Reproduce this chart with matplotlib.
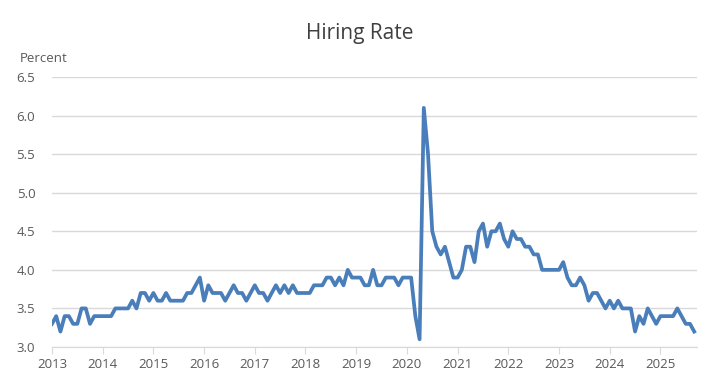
import matplotlib.pyplot as plt
import numpy as np

plt.rcParams['font.family'] = ['Open Sans', 'DejaVu Sans']

# monthly hiring rate, Jan 2013 - Sep 2025
rate_2013 = [3.3, 3.4, 3.2, 3.4, 3.4, 3.3, 3.3, 3.5, 3.5, 3.3, 3.4, 3.4]
rate_2014 = [3.4, 3.4, 3.4, 3.5, 3.5, 3.5, 3.5, 3.6, 3.5, 3.7, 3.7, 3.6]
rate_2015 = [3.7, 3.6, 3.6, 3.7, 3.6, 3.6, 3.6, 3.6, 3.7, 3.7, 3.8, 3.9]
rate_2016 = [3.6, 3.8, 3.7, 3.7, 3.7, 3.6, 3.7, 3.8, 3.7, 3.7, 3.6, 3.7]
rate_2017 = [3.8, 3.7, 3.7, 3.6, 3.7, 3.8, 3.7, 3.8, 3.7, 3.8, 3.7, 3.7]
rate_2018 = [3.7, 3.7, 3.8, 3.8, 3.8, 3.9, 3.9, 3.8, 3.9, 3.8, 4.0, 3.9]
rate_2019 = [3.9, 3.9, 3.8, 3.8, 4.0, 3.8, 3.8, 3.9, 3.9, 3.9, 3.8, 3.9]
rate_2020 = [3.9, 3.9, 3.4, 3.1, 6.1, 5.5, 4.5, 4.3, 4.2, 4.3, 4.1, 3.9]
rate_2021 = [3.9, 4.0, 4.3, 4.3, 4.1, 4.5, 4.6, 4.3, 4.5, 4.5, 4.6, 4.4]
rate_2022 = [4.3, 4.5, 4.4, 4.4, 4.3, 4.3, 4.2, 4.2, 4.0, 4.0, 4.0, 4.0]
rate_2023 = [4.0, 4.1, 3.9, 3.8, 3.8, 3.9, 3.8, 3.6, 3.7, 3.7, 3.6, 3.5]
rate_2024 = [3.6, 3.5, 3.6, 3.5, 3.5, 3.5, 3.2, 3.4, 3.3, 3.5, 3.4, 3.3]
rate_2025 = [3.4, 3.4, 3.4, 3.4, 3.5, 3.4, 3.3, 3.3, 3.2]

rates = (rate_2013 + rate_2014 + rate_2015 + rate_2016 + rate_2017 + rate_2018
         + rate_2019 + rate_2020 + rate_2021 + rate_2022 + rate_2023 + rate_2024
         + rate_2025)
x = 2013 + np.arange(len(rates)) / 12

years = list(range(2013, 2026))
yticks = [3.0, 3.5, 4.0, 4.5, 5.0, 5.5, 6.0, 6.5]

fig = plt.figure(figsize=(7.19, 3.89), dpi=100)
ax = fig.add_axes([0.0723, 0.108, 0.897, 0.694])

ax.plot(x, rates, color='#4A7EBB', linewidth=2.7, solid_joinstyle='round')

ax.set_xlim(2013, 2025.72)
ax.set_ylim(3.0, 6.5)
ax.set_yticks(yticks)
ax.set_yticklabels([f'{v:.1f}' for v in yticks])
ax.set_xticks(years)
ax.set_xticklabels([str(y) for y in years])

ax.grid(axis='y', color='#d9d9d9', linewidth=1)
ax.set_axisbelow(True)
for s in ['top', 'right', 'left']:
    ax.spines[s].set_visible(False)
ax.spines['bottom'].set_color('#d9d9d9')
ax.tick_params(axis='y', length=0, pad=12, labelsize=9.5, labelcolor='#595959')
ax.tick_params(axis='x', length=5, color='#d9d9d9', pad=3, labelsize=9.5,
               labelcolor='#595959')

fig.text(0.5, 0.915, 'Hiring Rate', ha='center', va='center', fontsize=15,
         color='#404040')
fig.text(0.028, 0.85, 'Percent', ha='left', va='center', fontsize=9.5,
         color='#595959')

fig.savefig('out.png', dpi=100)
